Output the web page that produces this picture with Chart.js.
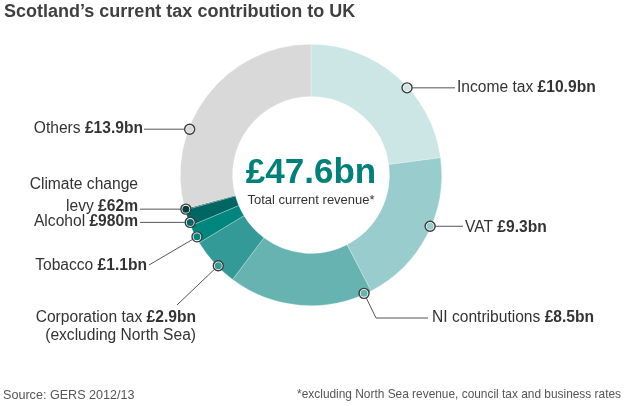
<!DOCTYPE html>
<html>
<head>
<meta charset="utf-8">
<script src="https://cdn.jsdelivr.net/npm/chart.js@4/dist/chart.umd.min.js"></script>
<style>
  html, body { margin: 0; padding: 0; background: #fff; }
  #wrap { position: relative; width: 624px; height: 406px; overflow: hidden; font-family: 'Liberation Sans', Arial, sans-serif; }
  #title { position: absolute; left: 4px; top: 1px; font-size: 18px; font-weight: bold; color: #404040; white-space: nowrap; }
  #src { position: absolute; left: 3px; top: 388px; font-size: 12.6px; color: #555; white-space: nowrap; }
  #note { position: absolute; right: 3px; top: 387px; font-size: 11.9px; color: #555; white-space: nowrap; }
  canvas { position: absolute; left: 0; top: 0; }
</style>
</head>
<body>
<div id="wrap">
  <canvas id="c" width="624" height="406"></canvas>
  <div id="title">Scotland’s current tax contribution to UK</div>
  <div id="src">Source: GERS 2012/13</div>
  <div id="note">*excluding North Sea revenue, council tax and business rates</div>
</div>
<script>
// ---- data ----
const categories = ['Income tax', 'VAT', 'NI contributions', 'Corporation tax', 'Tobacco', 'Alcohol', 'Climate change levy', 'Others'];
const values = [10.9, 9.3, 8.5, 2.9, 1.1, 0.98, 0.062, 13.9];
const valueLabels = ['£10.9bn', '£9.3bn', '£8.5bn', '£2.9bn', '£1.1bn', '£980m', '£62m', '£13.9bn'];
const totalLabel = '£47.6bn';
const totalCaption = 'Total current revenue*';

// ---- styles / layout ----
const colors = ['#cce6e6', '#99cccc', '#66b3b1', '#339a97', '#00857f', '#006663', '#00403d', '#d9d9d9'];
const FONT = "'Liberation Sans', Arial, sans-serif";
const LABEL_SIZE = '15.6px ';
// label text lines: '{v}' is replaced by the bold value
const labelLines = [
  ['Income tax {v}'],
  ['VAT {v}'],
  ['NI contributions {v}'],
  ['Corporation tax {v}', '(excluding North Sea)'],
  ['Tobacco {v}'],
  ['Alcohol {v}'],
  ['Climate change', 'levy {v}'],
  ['Others {v}']
];
// marker position along each slice (fraction of its sweep) and leader-line / text layout
const labelLayout = [
  { frac: 0.58, path: [[455, null]], tx: 457, ty: [88], align: 'left' },
  { frac: 0.44, path: [[463, null]], tx: 465, ty: [228], align: 'left' },
  { frac: 0.05, path: [[376, 318], [428, 318]], tx: 432, ty: [318], align: 'left' },
  { frac: 0.40, path: [[177, 305]], tx: 196, ty: [318, 336], align: 'right' },
  { frac: 0.33, path: [[149, 265]], tx: 147, ty: [266], align: 'right' },
  { frac: 0.20, path: [[140, null]], tx: 138, ty: [222], align: 'right' },
  { frac: 0.50, path: [[140, null]], tx: 138, ty: [185, 207], align: 'right' },
  { frac: 0.34, path: [[144, null]], tx: 143, ty: [129], align: 'right' }
];

function drawRich(ctx, parts, x, y, align) {
  let w = 0;
  parts.forEach(p => { ctx.font = (p.b ? 'bold ' : '') + LABEL_SIZE + FONT; p.w = ctx.measureText(p.t).width; w += p.w; });
  let cx = align === 'right' ? x - w : x;
  ctx.textAlign = 'left';
  parts.forEach(p => { ctx.font = (p.b ? 'bold ' : '') + LABEL_SIZE + FONT; ctx.fillText(p.t, cx, y); cx += p.w; });
}

const labelPlugin = {
  id: 'labels',
  afterDraw(chart) {
    const ctx = chart.ctx;
    const meta = chart.getDatasetMeta(0);
    ctx.save();
    // center text
    const a0 = meta.data[0].getProps(['x', 'y'], true);
    ctx.fillStyle = '#00807a';
    ctx.textAlign = 'center';
    ctx.textBaseline = 'middle';
    ctx.font = 'bold 35px ' + FONT;
    ctx.fillText(totalLabel, a0.x, a0.y - 2);
    ctx.fillStyle = '#333';
    ctx.font = '13px ' + FONT;
    ctx.fillText(totalCaption, a0.x, a0.y + 25);

    meta.data.forEach((arc, i) => {
      const p = arc.getProps(['x', 'y', 'startAngle', 'endAngle', 'outerRadius'], true);
      const L = labelLayout[i];
      const ang = p.startAngle + L.frac * (p.endAngle - p.startAngle);
      const r = p.outerRadius - 1;
      const mx = p.x + Math.cos(ang) * r;
      const my = p.y + Math.sin(ang) * r;
      // leader line
      ctx.strokeStyle = '#555';
      ctx.lineWidth = 1;
      ctx.beginPath();
      ctx.moveTo(mx, my);
      L.path.forEach(pt => ctx.lineTo(pt[0], pt[1] === null ? my : pt[1]));
      ctx.stroke();
      // marker
      ctx.beginPath();
      ctx.arc(mx, my, 5, 0, Math.PI * 2);
      ctx.fillStyle = '#fff';
      ctx.fill();
      ctx.strokeStyle = '#3a3a3a';
      ctx.lineWidth = 1.4;
      ctx.stroke();
      ctx.beginPath();
      ctx.arc(mx, my, 3.5, 0, Math.PI * 2);
      ctx.fillStyle = colors[i];
      ctx.fill();
      // text
      ctx.fillStyle = '#333';
      ctx.textBaseline = 'middle';
      labelLines[i].forEach((line, k) => {
        const parts = [];
        const idx = line.indexOf('{v}');
        if (idx >= 0) {
          parts.push({ t: line.slice(0, idx), b: false });
          parts.push({ t: valueLabels[i], b: true });
        } else parts.push({ t: line, b: false });
        drawRich(ctx, parts, L.tx, L.ty[k], L.align);
      });
    });
    ctx.restore();
  }
};

new Chart(document.getElementById('c'), {
  type: 'doughnut',
  data: {
    labels: categories,
    datasets: [{
      data: values,
      backgroundColor: colors,
      borderColor: 'rgba(255,255,255,0.45)',
      borderWidth: 0.6,
      hoverOffset: 0
    }]
  },
  options: {
    responsive: false,
    animation: false,
    cutout: '60%',
    layout: { padding: { left: 180, right: 182, top: 44, bottom: 100 } },
    plugins: { legend: { display: false }, tooltip: { enabled: false }, title: { display: false } }
  },
  plugins: [labelPlugin]
});
</script>
</body>
</html>
